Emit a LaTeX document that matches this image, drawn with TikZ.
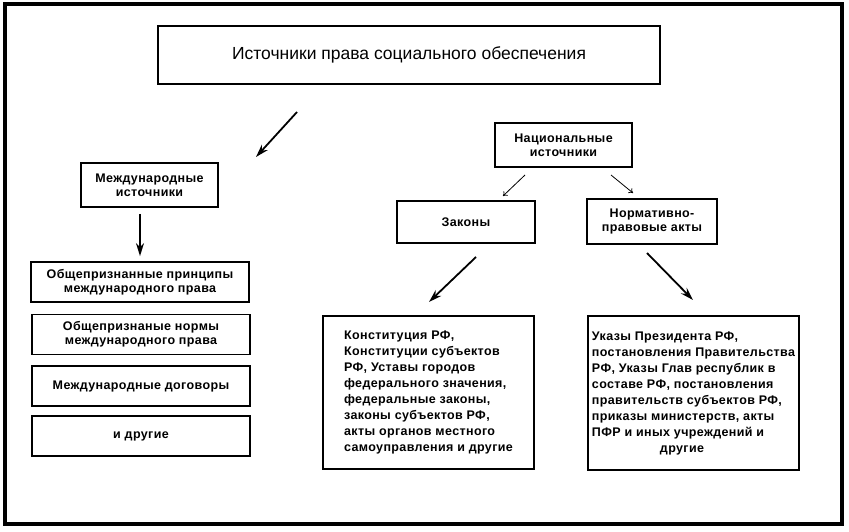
\documentclass[tikz,border=0pt]{standalone}
\usepackage{fontspec}
\setmainfont{Liberation Sans}
\newfontfamily\boxfont[LetterSpace=3]{Liberation Sans}
\usetikzlibrary{arrows.meta}
\tikzstyle{frame}=[draw,line width=4.5pt]
\tikzstyle{box}=[draw,line width=1.8pt,inner sep=0pt,align=center,font=\boxfont\bfseries\fontsize{12.5}{14}\selectfont]
\tikzstyle{titlebox}=[box,font=\fontsize{17.5}{20}\selectfont]
\tikzstyle{listbox}=[box,align=left,font=\boxfont\bfseries\fontsize{12.5}{16}\selectfont]
\tikzstyle{bigarrow}=[draw,line width=1.8pt,-{Stealth[length=13pt,width=8pt]}]
\tikzstyle{smallarrow}=[draw,line width=0.8pt,-{To[length=4pt,width=6pt]}]

\begin{document}
\begin{tikzpicture}[x=1pt,y=-1pt]
	\useasboundingbox (0,0) rectangle (849,532);
	% Outer frame
	\draw[frame] (5,4) rectangle (842,524);

	% Top of the tree
	\node[titlebox,minimum width=502pt,minimum height=58pt] (title) at (409,55) {Источники права социального обеспечения};
	\node[box,minimum width=137pt,minimum height=44pt] (intl) at (149.5,185) {Международные\\источники};
	\node[box,minimum width=137pt,minimum height=44pt] (nat) at (563.5,145) {Национальные\\источники};
	\node[box,minimum width=138pt,minimum height=42pt] (laws) at (466,222) {Законы};
	\node[box,minimum width=130pt,minimum height=45pt] (acts) at (652,221.5) {Нормативно-\\правовые акты};

	% International sources, one under the other
	\foreach \pos/\name/\text in {{(140,282)/prin/{Общепризнанные принципы\\международного права}},
							{(141,334.5)/norm/{Общепризнаные нормы\\международного права}},
							{(141,386)/treaty/{Международные договоры}},
							{(141,436)/other/{и другие}}}
	\node[box,minimum width=218pt,minimum height=40pt] (\name) at \pos {\text};

	% National sources
	\node[listbox,minimum width=211pt,minimum height=153pt] (lawlist) at (428.5,392.5) {Конституция РФ,\\Конституции субъектов\\РФ, Уставы городов\\федерального значения,\\федеральные законы,\\законы субъектов РФ,\\акты органов местного\\самоуправления и другие};
	\node[listbox,minimum width=211pt,minimum height=154pt] (actlist) at (693.5,393) {Указы Президента РФ,\\постановления Правительства\\РФ, Указы Глав республик в\\составе РФ, постановления\\правительств субъектов РФ,\\приказы министерств, акты\\ПФР и иных учреждений и\\\hspace*{68pt}другие};

	% Arrows float between the boxes
	\foreach \name/\pos in {{a/(297,112)}, {b/(256,157)}, {c/(525,175)}, {d/(503,196)},
							{e/(611,175)}, {f/(633,193)}, {g/(476,257)}, {h/(429,302)},
							{i/(647,253)}, {j/(693,300)}}
	\path \pos coordinate (\name);

	\draw[bigarrow] (a) -- (b);
	\draw[bigarrow,shorten <=6pt,shorten >=5pt] (prin.north |- intl.south) -- (prin.north);
	\draw[smallarrow] (c) -- (d);
	\draw[smallarrow] (e) -- (f);
	\draw[bigarrow] (g) -- (h);
	\draw[bigarrow] (i) -- (j);
\end{tikzpicture}
\end{document}
